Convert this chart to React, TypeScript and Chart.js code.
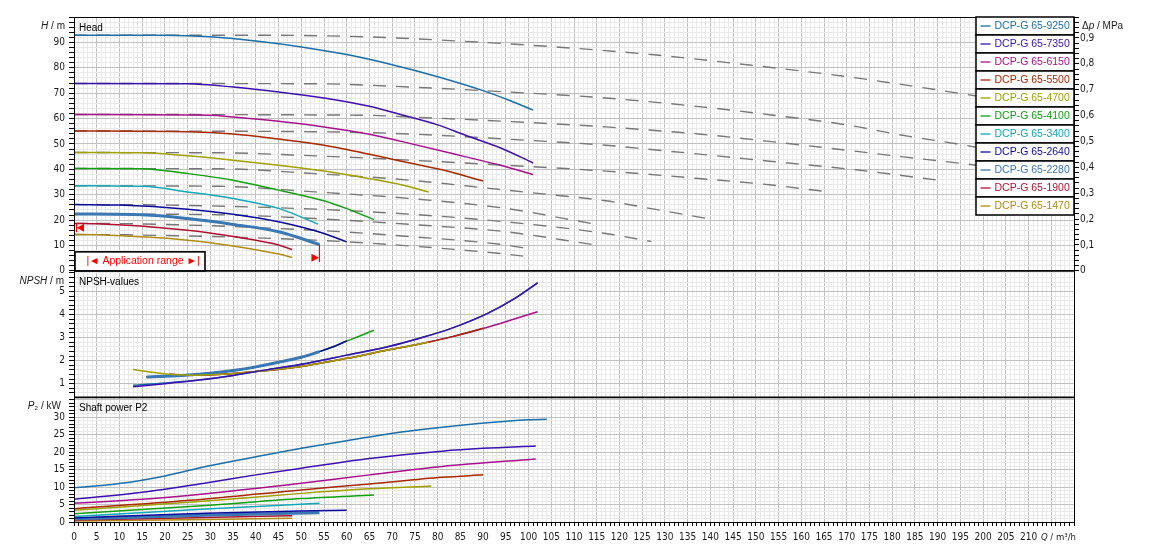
import React, { useEffect, useRef } from 'react';
import { Chart, registerables } from 'chart.js';
Chart.register(...registerables);

const FONT = '"Liberation Sans", Arial, sans-serif';
const NARROW = '"Liberation Sans Narrow", "DejaVu Sans Condensed", "Liberation Sans", Arial, sans-serif';

// ---------- legend / series ----------
const pumpNames = ['DCP-G 65-9250', 'DCP-G 65-7350', 'DCP-G 65-6150', 'DCP-G 65-5500', 'DCP-G 65-4700', 'DCP-G 65-4100', 'DCP-G 65-3400', 'DCP-G 65-2640', 'DCP-G 65-2280', 'DCP-G 65-1900', 'DCP-G 65-1470'];
const pumpColors = ['#1b6ea6', '#3c10b0', '#a8108c', '#a82800', '#a0a000', '#10a010', '#10a8b8', '#0a0a9c', '#3a78b4', '#b01030', '#b08c10'];
const pumpWidths = [1.5, 1.5, 1.5, 1.5, 1.5, 1.5, 1.5, 1.5, 3, 1.5, 1.5];

// ---------- head curves H(Q) ----------
const h9250Q = [0, 20, 30, 40, 50, 60, 70, 80, 90, 96, 101];
const h9250 = [92.8, 92.8, 92.2, 90.5, 88.2, 85.2, 81.2, 76.5, 71.0, 67.0, 63.3];
const h7350Q = [0, 25, 35, 45, 55, 65, 72, 80, 86, 94, 101];
const h7350 = [73.8, 73.7, 72.4, 70.5, 68.1, 64.8, 61.5, 57.5, 53.5, 48.3, 42.5];
const h6150Q = [0, 30, 35, 45, 55, 65, 72, 86, 94, 101];
const h6150 = [61.6, 61.3, 60.6, 58.9, 56.7, 53.8, 51.0, 45.0, 41.5, 37.9];
const h5500Q = [0, 25, 35, 45, 55, 60, 65, 72, 81, 90];
const h5500 = [55.1, 54.8, 53.9, 51.9, 49.5, 47.8, 45.9, 43.2, 39.8, 35.4];
const h4700Q = [0, 15, 25, 35, 45, 55, 65, 72, 78];
const h4700 = [46.6, 46.5, 45.3, 43.6, 41.6, 39.3, 36.3, 33.9, 31.1];
const h4100Q = [0, 15, 25, 35, 45, 50, 55, 60, 66];
const h4100 = [40.3, 40.2, 38.3, 35.7, 31.8, 29.8, 27.6, 24.5, 20.2];
const h3400Q = [0, 15, 25, 35, 45, 53.7];
const h3400 = [33.5, 33.3, 31.1, 28.5, 24.6, 18.4];
const h2640Q = [0, 10, 25, 35, 45, 55, 60];
const h2640 = [26.1, 25.9, 24.3, 22.3, 19.3, 14.7, 11.4];
const h2280Q = [0, 15, 25, 35, 45, 54];
const h2280 = [22.4, 22.1, 20.6, 18.3, 15.4, 10.4];
const h1900Q = [0, 5, 25, 35, 45, 48];
const h1900 = [18.7, 18.6, 16.0, 13.5, 10.2, 8.4];
const h1470Q = [0, 5, 25, 35, 45, 48];
const h1470 = [14.3, 14.2, 12.1, 9.8, 6.6, 5.3];

// ---------- twin operation head curves (dashed grey) ----------
const t9250Q = [0, 42, 64, 85, 106, 127, 148, 170, 191, 210];
const t9250 = [92.8, 92.8, 92.2, 90.5, 88.2, 85.2, 81.2, 76.5, 71.0, 65.5];
const t7350Q = [0, 53, 74, 95, 117, 138, 153, 170, 182, 199, 214];
const t7350 = [73.8, 73.7, 72.4, 70.5, 68.1, 64.6, 61.5, 57.5, 53.5, 48.5, 42.5];
const t6150Q = [0, 64, 74, 95, 117, 138, 153, 182, 199, 214];
const t6150 = [61.6, 61.3, 60.6, 58.9, 56.7, 53.8, 51.0, 45.0, 41.5, 37.9];
const t5500Q = [0, 53, 74, 95, 117, 127, 138, 153, 172, 191];
const t5500 = [55.1, 54.8, 53.9, 51.9, 49.5, 47.8, 45.9, 43.2, 39.8, 35.5];
const t4700Q = [0, 32, 53, 74, 95, 117, 138, 153, 166];
const t4700 = [46.6, 46.5, 45.3, 43.6, 41.6, 39.3, 36.3, 33.9, 31.1];
const t4100Q = [0, 32, 53, 74, 95, 106, 117, 127, 140];
const t4100 = [40.3, 40.2, 38.3, 35.7, 31.8, 29.8, 27.6, 24.5, 20.4];
const t3400Q = [0, 32, 53, 74, 95, 114];
const t3400 = [33.5, 33.3, 31.1, 28.5, 24.6, 18.6];
const t2640Q = [0, 21, 53, 74, 95, 117, 127];
const t2640 = [26.1, 25.9, 24.3, 22.3, 19.3, 14.7, 11.6];
const t2280Q = [0, 32, 53, 74, 95, 114];
const t2280 = [22.4, 22.1, 20.6, 18.3, 15.4, 10.4];
const t1900Q = [0, 11, 53, 74, 95, 101];
const t1900 = [18.7, 18.6, 16.0, 13.5, 10.2, 8.4];
const t1470Q = [0, 11, 53, 74, 95, 101];
const t1470 = [14.3, 14.2, 12.1, 9.8, 6.6, 5.3];

// ---------- NPSH curves ----------
const n9250Q = [13, 20, 27.5, 35, 42, 51, 60, 69, 76, 83, 91, 97, 102];
const n9250 = [0.94, 1.03, 1.16, 1.36, 1.59, 1.88, 2.24, 2.6, 2.97, 3.4, 4.05, 4.7, 5.37];
const n7350Q = [13, 20, 27.5, 35, 42, 51, 60, 69, 76, 83, 91, 97, 102];
const n7350 = [0.87, 1.0, 1.16, 1.36, 1.59, 1.88, 2.24, 2.6, 2.97, 3.4, 4.05, 4.7, 5.37];
const n6150Q = [21, 27, 35, 43, 51, 60, 69, 76, 83, 91, 96, 102];
const n6150 = [1.41, 1.37, 1.44, 1.58, 1.78, 2.1, 2.46, 2.72, 3.03, 3.45, 3.75, 4.12];
const n5500Q = [21, 27, 35, 43, 51, 60, 69, 76, 83, 90];
const n5500 = [1.41, 1.37, 1.44, 1.58, 1.78, 2.1, 2.46, 2.72, 3.03, 3.4];
const n4700Q = [13, 16, 21, 27, 35, 43, 51, 60, 69, 76, 78];
const n4700 = [1.62, 1.53, 1.41, 1.37, 1.44, 1.58, 1.78, 2.1, 2.46, 2.72, 2.8];
const n4100Q = [16, 20, 26, 30, 35, 40, 45, 50, 54, 57, 60, 63, 66];
const n4100 = [1.29, 1.32, 1.39, 1.45, 1.57, 1.73, 1.93, 2.15, 2.39, 2.6, 2.85, 3.08, 3.32];
const n3400Q = [16, 20, 26, 30, 35, 40, 45, 50, 53];
const n3400 = [1.29, 1.32, 1.39, 1.45, 1.57, 1.73, 1.93, 2.15, 2.33];
const n2640Q = [16, 20, 26, 30, 35, 40, 45, 50, 54, 57, 60];
const n2640 = [1.29, 1.32, 1.39, 1.45, 1.57, 1.73, 1.93, 2.15, 2.39, 2.6, 2.85];
const n2280Q = [16, 20, 26, 30, 35, 40, 45, 50, 54];
const n2280 = [1.29, 1.32, 1.39, 1.45, 1.57, 1.73, 1.93, 2.15, 2.39];
const n1900Q = [16, 20, 26, 30, 35, 40, 45, 48];
const n1900 = [1.29, 1.32, 1.39, 1.45, 1.57, 1.73, 1.93, 2.06];
const n1470Q = [16, 20, 26, 30, 35, 40, 45, 48];
const n1470 = [1.29, 1.32, 1.39, 1.45, 1.57, 1.73, 1.93, 2.06];

// ---------- shaft power P2 ----------
const p9250Q = [0, 10, 20, 29, 40, 50, 60, 73, 89, 100, 104];
const p9250 = [9.8, 11.0, 13.2, 15.9, 18.7, 21.1, 23.3, 25.9, 28.2, 29.3, 29.4];
const p7350Q = [0, 15, 29, 40, 50, 65, 81, 90, 101.6];
const p7350 = [6.5, 8.5, 11.2, 13.5, 15.4, 18.2, 20.3, 21.1, 21.8];
const p6150Q = [0, 15, 29, 50, 65, 81, 101.6];
const p6150 = [5.35, 6.5, 8.1, 11.1, 13.5, 15.9, 18.05];
const p5500Q = [0, 29, 50, 65, 81, 90];
const p5500 = [3.8, 6.6, 9.2, 10.9, 12.8, 13.5];
const p4700Q = [0, 29, 50, 65, 78.6];
const p4700 = [3.35, 6.0, 8.2, 9.5, 10.3];
const p4100Q = [0, 29, 50, 66];
const p4100 = [2.35, 4.7, 6.7, 7.7];
const p3400Q = [0, 29, 54];
const p3400 = [1.6, 3.7, 5.35];
const p2640Q = [0, 29, 60];
const p2640 = [1.15, 2.5, 3.4];
const p2280Q = [0, 29, 54];
const p2280 = [0.9, 1.9, 2.67];
const p1900Q = [0, 29, 48];
const p1900 = [0.57, 1.3, 1.8];
const p1470Q = [0, 29, 48];
const p1470 = [0.29, 0.75, 1.05];

// draw order inside the NPSH panel (lower = on top)
const npshOrder = [2, 1, 3, 2, 1, 3, 4, 2, 1, 5, 6];

// ---------- axes ----------
const Q_MAX = 220;
const H_MAX = 100;
const NPSH_MIN = 0.41;
const NPSH_MAX = 5.89;
const P_MAX = 35.7;
const DP_MAX = 0.981;
const W_H = 254;
const W_N = 126.6;
const W_P = 124.7;

const pumpData = [
  [h9250Q, h9250, t9250Q, t9250, n9250Q, n9250, p9250Q, p9250],
  [h7350Q, h7350, t7350Q, t7350, n7350Q, n7350, p7350Q, p7350],
  [h6150Q, h6150, t6150Q, t6150, n6150Q, n6150, p6150Q, p6150],
  [h5500Q, h5500, t5500Q, t5500, n5500Q, n5500, p5500Q, p5500],
  [h4700Q, h4700, t4700Q, t4700, n4700Q, n4700, p4700Q, p4700],
  [h4100Q, h4100, t4100Q, t4100, n4100Q, n4100, p4100Q, p4100],
  [h3400Q, h3400, t3400Q, t3400, n3400Q, n3400, p3400Q, p3400],
  [h2640Q, h2640, t2640Q, t2640, n2640Q, n2640, p2640Q, p2640],
  [h2280Q, h2280, t2280Q, t2280, n2280Q, n2280, p2280Q, p2280],
  [h1900Q, h1900, t1900Q, t1900, n1900Q, n1900, p1900Q, p1900],
  [h1470Q, h1470, t1470Q, t1470, n1470Q, n1470, p1470Q, p1470],
];

const MAJOR = '#c0c0c0';
const MINOR = '#e9e9e9';
const TICK_FONT = { family: NARROW, size: 10 };
const TICK_COLOR = '#1a1a1a';

function pts(xs: number[], ys: number[]) {
  return xs.map((x, i) => ({ x, y: ys[i] }));
}

function isMult(v: number, m: number) {
  const r = v / m;
  return Math.abs(r - Math.round(r)) < 1e-6;
}

function buildDatasets() {
  const solid: any[] = [];
  const dashed: any[] = [];
  pumpData.forEach((d, i) => {
    const base = {
      borderColor: pumpColors[i],
      borderWidth: pumpWidths[i],
      pointRadius: 0,
      fill: false,
      cubicInterpolationMode: 'monotone',
    };
    solid.push({ ...base, label: pumpNames[i] + ' H', data: pts(d[0], d[1]), yAxisID: 'yH', order: 10 + i });
    solid.push({ ...base, label: pumpNames[i] + ' NPSH', data: pts(d[4], d[5]), yAxisID: 'yN', order: npshOrder[i] });
    solid.push({ ...base, label: pumpNames[i] + ' P2', data: pts(d[6], d[7]), yAxisID: 'yP', order: 10 + i });
    dashed.push({
      label: pumpNames[i] + ' twin',
      data: pts(d[2], d[3]),
      yAxisID: 'yH',
      borderColor: '#777777',
      borderWidth: 1.4,
      borderDash: [13, 10],
      pointRadius: 0,
      fill: false,
      cubicInterpolationMode: 'monotone',
      order: 50 + i,
    });
  });
  return [...solid, ...dashed];
}

function richText(ctx: CanvasRenderingContext2D, parts: [string, boolean][], x: number, y: number, align: 'left' | 'right', size: number, color: string, family: string = FONT) {
  let total = 0;
  parts.forEach(([t, it]) => {
    ctx.font = `${it ? 'italic ' : ''}${size}px ${family}`;
    total += ctx.measureText(t).width;
  });
  let cx = align === 'right' ? x - total : x;
  ctx.textAlign = 'left';
  ctx.textBaseline = 'middle';
  ctx.fillStyle = color;
  parts.forEach(([t, it]) => {
    ctx.font = `${it ? 'italic ' : ''}${size}px ${family}`;
    ctx.fillText(t, cx, y);
    cx += ctx.measureText(t).width;
  });
}

const overlay = {
  id: 'overlay',
  afterDraw(chart: any) {
    const { ctx, chartArea: a, scales } = chart;
    const sx = scales.x;
    const sH = scales.yH;
    const sN = scales.yN;
    const sP = scales.yP;
    ctx.save();

    // frame + panel separators
    ctx.strokeStyle = '#000';
    ctx.lineWidth = 1;
    ctx.strokeRect(a.left + 0.5, a.top + 0.5, a.right - a.left, a.bottom - a.top);
    ctx.lineWidth = 1.6;
    [sN.top, sP.top].forEach((y: number) => {
      ctx.beginPath();
      ctx.moveTo(a.left, y);
      ctx.lineTo(a.right, y);
      ctx.stroke();
    });

    // panel titles
    ctx.fillStyle = '#000';
    ctx.font = `10px ${FONT}`;
    ctx.textAlign = 'left';
    ctx.textBaseline = 'middle';
    ctx.fillText('Head', a.left + 5, sH.top + 11);
    ctx.fillText('NPSH-values', a.left + 5, sN.top + 11);
    ctx.fillText('Shaft power P2', a.left + 5, sP.top + 11);

    // axis titles
    richText(ctx, [['H', true], [' / m', false]], a.left - 9, sH.top + 9, 'right', 10, '#1a1a1a');
    richText(ctx, [['NPSH', true], [' / m', false]], a.left - 10, sN.top + 10, 'right', 10, '#1a1a1a');
    richText(ctx, [['P', true], ['\u2082 / kW', false]], a.left - 13, sP.top + 9, 'right', 10, '#1a1a1a');
    richText(ctx, [['\u0394', false], ['p', true], [' / MPa', false]], a.right + 8, sH.top + 9, 'left', 10, '#1a1a1a');
    richText(ctx, [['Q', true], [' / m\u00b3/h', false]], a.right + 2, sx.top + 16, 'right', 9.5, '#1a1a1a', NARROW);

    // application range box
    const bx0 = a.left + 1;
    const bx1 = a.left + 131;
    const by1 = sH.bottom;
    const by0 = by1 - 19;
    ctx.fillStyle = '#fff';
    ctx.fillRect(bx0, by0, bx1 - bx0, by1 - by0);
    ctx.strokeStyle = '#000';
    ctx.lineWidth = 1.6;
    ctx.strokeRect(bx0, by0, bx1 - bx0, by1 - by0);
    ctx.fillStyle = '#ff0000';
    ctx.font = `10.5px ${FONT}`;
    ctx.textAlign = 'center';
    ctx.fillText('|\u25C4 Application range \u25BA|', (bx0 + bx1) / 2 + 3, by0 + 9.5);

    // application range markers
    ctx.strokeStyle = '#ff0000';
    ctx.fillStyle = '#ff0000';
    ctx.lineWidth = 1.2;
    const ly = sH.getPixelForValue(17);
    const lx = a.left + 2.5;
    ctx.beginPath();
    ctx.moveTo(lx, ly - 4.5);
    ctx.lineTo(lx, ly + 4.5);
    ctx.stroke();
    ctx.beginPath();
    ctx.moveTo(lx + 0.5, ly);
    ctx.lineTo(lx + 7.5, ly - 4);
    ctx.lineTo(lx + 7.5, ly + 4);
    ctx.closePath();
    ctx.fill();

    const rx = sx.getPixelForValue(54);
    const ry0 = sH.getPixelForValue(10.4);
    const ry1 = sH.bottom - 9;
    ctx.beginPath();
    ctx.moveTo(rx, ry0);
    ctx.lineTo(rx, ry1);
    ctx.stroke();
    const ty = ry1 - 4;
    ctx.beginPath();
    ctx.moveTo(rx - 0.5, ty);
    ctx.lineTo(rx - 8, ty - 4);
    ctx.lineTo(rx - 8, ty + 4);
    ctx.closePath();
    ctx.fill();

    // legend
    const rowH = 18;
    const lgW = 98;
    const lgX = a.right - lgW;
    pumpNames.forEach((name, i) => {
      const y0 = a.top + i * rowH;
      ctx.fillStyle = '#fff';
      ctx.fillRect(lgX, y0, lgW, rowH);
      ctx.strokeStyle = '#000';
      ctx.lineWidth = 1.5;
      ctx.strokeRect(lgX, y0, lgW, rowH);
      ctx.strokeStyle = pumpColors[i];
      ctx.lineWidth = 1.3;
      ctx.beginPath();
      ctx.moveTo(lgX + 4.5, y0 + rowH / 2);
      ctx.lineTo(lgX + 14.5, y0 + rowH / 2);
      ctx.stroke();
      ctx.fillStyle = pumpColors[i];
      ctx.font = `10.5px ${FONT}`;
      ctx.textAlign = 'left';
      ctx.textBaseline = 'middle';
      ctx.fillText(name, lgX + 18.5, y0 + rowH / 2 + 0.5);
    });

    ctx.restore();
  },
};

function gridColor(major: number) {
  return (c: any) => (c.tick && isMult(c.tick.value, major) ? MAJOR : MINOR);
}

export default function App() {
  const ref = useRef<HTMLCanvasElement>(null);
  useEffect(() => {
    const dpMin = -DP_MAX * (W_N + W_P) / W_H;
    const chart = new Chart(ref.current as HTMLCanvasElement, {
      type: 'line',
      data: { datasets: buildDatasets() as any },
      plugins: [overlay as any],
      options: {
        animation: false,
        responsive: false,
        devicePixelRatio: 1,
        events: [],
        layout: { padding: { top: 17, left: 0, right: 0, bottom: 0 } },
        plugins: { legend: { display: false }, tooltip: { enabled: false } },
        elements: { point: { radius: 0 } },
        scales: {
          x: {
            type: 'linear',
            position: 'bottom',
            min: 0,
            max: Q_MAX,
            afterFit: (s: any) => { s.height = 37; },
            grid: { color: gridColor(5), tickColor: '#000', tickLength: 4, lineWidth: 1 },
            border: { display: true, color: '#000', width: 1 },
            ticks: {
              stepSize: 1,
              autoSkip: false,
              maxRotation: 0,
              minRotation: 0,
              includeBounds: false,
              padding: 5,
              font: TICK_FONT,
              color: TICK_COLOR,
              callback: (v: any) => (isMult(v, 5) && v <= 210 ? String(Math.round(v)) : ''),
            },
          },
          yH: {
            type: 'linear',
            position: 'left',
            stack: 'left',
            stackWeight: W_H,
            weight: 3,
            min: 0,
            max: H_MAX,
            afterFit: (s: any) => { s.width = 74; },
            grid: { color: gridColor(10), tickColor: '#000', tickLength: 5 },
            border: { display: true, color: '#000', width: 1 },
            ticks: {
              stepSize: 2,
              autoSkip: false,
              includeBounds: false,
              padding: 4,
              font: TICK_FONT,
              color: TICK_COLOR,
              callback: (v: any) => (isMult(v, 10) && v < 100 ? String(Math.round(v)) : ''),
            },
          },
          yN: {
            type: 'linear',
            position: 'left',
            stack: 'left',
            stackWeight: W_N,
            weight: 2,
            min: NPSH_MIN,
            max: NPSH_MAX,
            afterFit: (s: any) => { s.width = 74; },
            grid: { color: gridColor(1), tickColor: '#000', tickLength: 5 },
            border: { display: true, color: '#000', width: 1 },
            ticks: {
              stepSize: 0.2,
              autoSkip: false,
              includeBounds: false,
              padding: 4,
              font: TICK_FONT,
              color: TICK_COLOR,
              callback: (v: any) => (isMult(v, 1) && v >= 0.99 ? String(Math.round(v)) : ''),
            },
          },
          yP: {
            type: 'linear',
            position: 'left',
            stack: 'left',
            stackWeight: W_P,
            weight: 1,
            min: 0,
            max: P_MAX,
            afterFit: (s: any) => { s.width = 74; },
            grid: { color: gridColor(5), tickColor: '#000', tickLength: 5 },
            border: { display: true, color: '#000', width: 1 },
            ticks: {
              stepSize: 1,
              autoSkip: false,
              includeBounds: false,
              padding: 4,
              font: TICK_FONT,
              color: TICK_COLOR,
              callback: (v: any) => (isMult(v, 5) && v <= 30 ? String(Math.round(v)) : ''),
            },
          },
          yDp: {
            type: 'linear',
            position: 'right',
            min: dpMin,
            max: DP_MAX,
            afterFit: (s: any) => { s.width = 75; },
            grid: {
              drawOnChartArea: false,
              tickLength: 5,
              tickColor: (c: any) => (c.tick && c.tick.value > -1e-9 ? '#000' : 'rgba(0,0,0,0)'),
            },
            border: { display: true, color: '#000', width: 1 },
            ticks: {
              stepSize: 0.02,
              autoSkip: false,
              includeBounds: false,
              padding: 1,
              font: TICK_FONT,
              color: TICK_COLOR,
              callback: (v: any) => {
                if (v < -1e-9 || !isMult(v, 0.1)) return '';
                if (Math.abs(v) < 1e-9) return '0';
                return v.toFixed(1).replace('.', ',');
              },
            },
          },
        },
      } as any,
    });
    return () => chart.destroy();
  }, []);
  return (
    <canvas
      ref={ref}
      width={1149}
      height={559}
      style={{ position: 'absolute', left: 0, top: 0, width: 1149, height: 559, display: 'block' }}
    />
  );
}
